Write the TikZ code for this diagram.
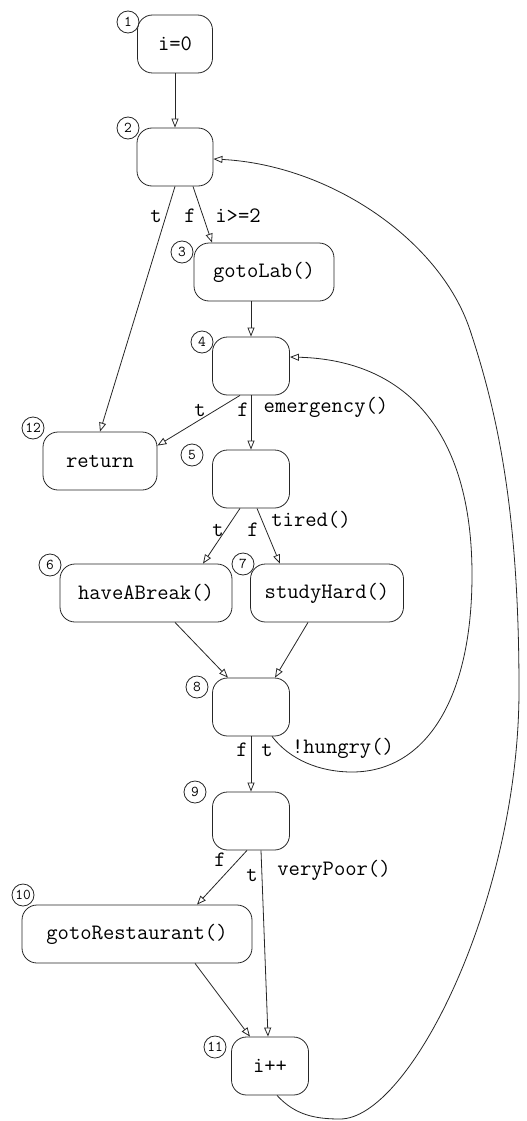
\documentclass[tikz,border=0pt]{standalone}
\usepackage{fontspec}
\usetikzlibrary{arrows.meta}
\begin{document}
\begin{tikzpicture}[x=1pt,y=-1pt,
  line width=0.8pt, draw=black!85,
  box/.style={draw, rectangle, rounded corners=15pt, inner sep=0pt,
    minimum height=58pt, font=\ttfamily\fontsize{22}{22}\selectfont},
  num/.style={draw, circle, minimum size=22pt, inner sep=0pt,
    font=\ttfamily\fontsize{15}{15}\selectfont},
  lbl/.style={inner sep=0pt, font=\ttfamily\fontsize{22}{22}\selectfont},
  flow/.style={-{Triangle[open,length=9pt,width=7pt]}}]
\useasboundingbox (0,0) rectangle (527,1121);

% statement and decision boxes
\node[box, minimum width=75pt] (n1) at (175,44) {i=0};
\node[box, minimum width=76pt] (n2) at (175,157) {};
\node[box, minimum width=140pt] (n3) at (264,272) {gotoLab()};
\node[box, minimum width=77pt] (n4) at (251,366) {};
\node[box, minimum width=77pt] (n5) at (251,479) {};
\node[box, minimum width=114pt] (n12) at (100,461) {return};
\node[box, minimum width=172pt] (n6) at (146,593) {haveABreak()};
\node[box, minimum width=153pt] (n7) at (327,593) {studyHard()};
\node[box, minimum width=77pt] (n8) at (251,707) {};
\node[box, minimum width=77pt] (n9) at (251,821) {};
\node[box, minimum width=230pt] (n10) at (137,934) {gotoRestaurant()};
\node[box, minimum width=77pt] (n11) at (270,1066) {i++};

% numbering circles
\node[num] (c1) at (128,22) {1};
\node[num] (c2) at (128,128) {2};
\node[num] (c3) at (182,252) {3};
\node[num] (c4) at (202,342) {4};
\node[num] (c5) at (192,455) {5};
\node[num] (c12) at (33,428) {12};
\node[num] (c6) at (50,565) {6};
\node[num] (c7) at (243,564) {7};
\node[num] (c8) at (197,687) {8};
\node[num] (c9) at (195,792) {9};
\node[num] (c10) at (23,895) {10};
\node[num] (c11) at (215,1047) {11};

% connectors
\draw[flow] (n1.south) -- (n2.north);
\draw[flow] (n2.south) -- (n12.north);
\draw[flow] ([xshift=18pt]n2.south) -- ([xshift=-52pt]n3.north);
\draw[flow] ([xshift=-13pt]n3.south) -- (n4.north);
\draw[flow] ([xshift=-11pt]n4.south) -- ([yshift=-14pt]n12.north east);
\draw[flow] (n4.south) -- (n5.north);
\draw[flow] ([xshift=-11pt]n5.south) -- ([xshift=57pt]n6.north);
\draw[flow] ([xshift=6pt]n5.south) -- ([xshift=-47pt]n7.north);
\draw[flow] ([xshift=29pt]n6.south) -- ([xshift=-23pt]n8.north);
\draw[flow] ([xshift=-19pt]n7.south) -- ([xshift=24pt]n8.north);
\draw[flow] (n8.south) -- (n9.north);
\draw[flow] ([xshift=-4pt]n9.south) -- ([xshift=60pt]n10.north);
\draw[flow] ([xshift=10pt]n9.south) -- ([xshift=-2pt]n11.north);
\draw[flow] ([xshift=58pt]n10.south) -- ([xshift=-20pt]n11.north);

% loop back from the hunger test to the emergency test
\draw[flow] ([xshift=21pt]n8.south) .. controls (290,760) and (320,772) .. (352,772)
  .. controls (425,772) and (472,700) .. (472,575)
  .. controls (472,430) and (405,360) .. ([yshift=9pt]n4.east);

% loop back from i++ to the outer test
\draw[flow] ([xshift=7pt]n11.south) .. controls (295,1115) and (315,1119) .. (340,1119)
  .. controls (410,1119) and (519,900) .. (519,690)
  .. controls (519,520) and (500,420) .. (470,330)
  .. controls (440,240) and (330,165) .. ([yshift=-2pt]n2.east);

% branch labels
\node[lbl] (l2t) at (156,216) {t};
\node[lbl] (l2f) at (190,216) {f};
\node[lbl] (l2c) at (238,216) {i>=2};
\node[lbl] (l4t) at (200,410) {t};
\node[lbl] (l4f) at (243,410) {f};
\node[lbl] (l4c) at (326,407) {emergency()};
\node[lbl] (l5t) at (218,530) {t};
\node[lbl] (l5f) at (253,530) {f};
\node[lbl] (l5c) at (311,520) {tired()};
\node[lbl] (l8f) at (242,750) {f};
\node[lbl] (l8t) at (267,750) {t};
\node[lbl] (l8c) at (343,748) {!hungry()};
\node[lbl] (l9f) at (220,860) {f};
\node[lbl] (l9t) at (252,875) {t};
\node[lbl] (l9c) at (334,870) {veryPoor()};
\end{tikzpicture}
\end{document}
